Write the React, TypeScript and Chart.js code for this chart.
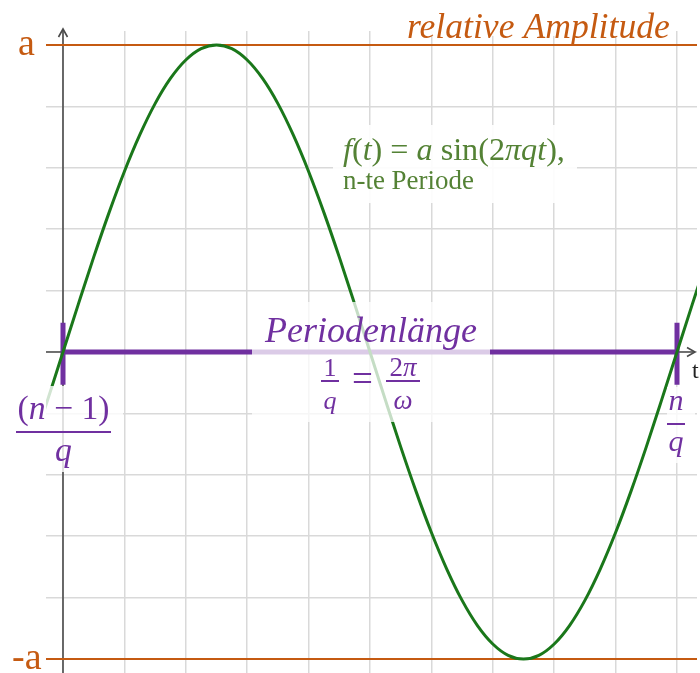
import React, { useEffect, useRef } from "react";
import { Chart, registerables } from "chart.js";

Chart.register(...registerables);

// ---- data ----
const curveT = [
  -0.05, -0.025, 0, 0.025, 0.05, 0.075, 0.1, 0.125, 0.15, 0.175, 0.2, 0.225, 0.25,
  0.275, 0.3, 0.325, 0.35, 0.375, 0.4, 0.425, 0.45, 0.475, 0.5, 0.525, 0.55, 0.575,
  0.6, 0.625, 0.65, 0.675, 0.7, 0.725, 0.75, 0.775, 0.8, 0.825, 0.85, 0.875, 0.9,
  0.925, 0.95, 0.975, 1, 1.025, 1.05,
];
const curveY = [
  -0.309, -0.156, 0, 0.156, 0.309, 0.454, 0.588, 0.707, 0.809, 0.891, 0.951, 0.988, 1,
  0.988, 0.951, 0.891, 0.809, 0.707, 0.588, 0.454, 0.309, 0.156, 0, -0.156, -0.309, -0.454,
  -0.588, -0.707, -0.809, -0.891, -0.951, -0.988, -1, -0.988, -0.951, -0.891, -0.809, -0.707, -0.588,
  -0.454, -0.309, -0.156, 0, 0.156, 0.309,
];
const xGridTicks = [0, 0.1, 0.2, 0.3, 0.4, 0.5, 0.6, 0.7, 0.8, 0.9, 1];
const yGridTicks = [-1, -0.8, -0.6, -0.4, -0.2, 0, 0.2, 0.4, 0.6, 0.8, 1];
const amplitudeLevels = [1, -1];
const amplitudeLabels = ["a", "-a"];
const periodStart = 0;
const periodEnd = 1;
const periodTickTop = 0.095;
const periodTickBottom = -0.107;
const titleText = "relative Amplitude";
const periodText = "Periodenlänge";
const functionNote = "n-te Periode";
const axisLabel = "t";

// ---- axis ranges ----
const X_MIN = -17 / 614;
const X_MAX = 1 + 20 / 614;
const Y_MAX = 1 + 14 / 307;
const Y_MIN = -Y_MAX;

const ORANGE = "#c55a11";
const PURPLE = "#7030a0";
const GREEN_LINE = "#1a771a";
const GREEN_TEXT = "#548235";
const SERIF = '"Liberation Serif", "DejaVu Serif", serif';

type Run = { t: string; i?: boolean };

function font(size: number, italic?: boolean) {
  return `${italic ? "italic " : ""}${size}px ${SERIF}`;
}
function measureRuns(ctx: CanvasRenderingContext2D, runs: Run[], size: number) {
  let w = 0;
  for (const r of runs) {
    ctx.font = font(size, r.i);
    w += ctx.measureText(r.t).width;
  }
  return w;
}
function drawRuns(
  ctx: CanvasRenderingContext2D,
  runs: Run[],
  x: number,
  y: number,
  size: number,
  color: string
) {
  ctx.fillStyle = color;
  ctx.textBaseline = "alphabetic";
  ctx.textAlign = "left";
  let cx = x;
  for (const r of runs) {
    ctx.font = font(size, r.i);
    ctx.fillText(r.t, cx, y);
    cx += ctx.measureText(r.t).width;
  }
}
function fitSize(ctx: CanvasRenderingContext2D, runs: Run[], base: number, width: number) {
  return (base * width) / measureRuns(ctx, runs, base);
}
function drawCentered(
  ctx: CanvasRenderingContext2D,
  runs: Run[],
  cx: number,
  y: number,
  size: number,
  color: string
) {
  const w = measureRuns(ctx, runs, size);
  drawRuns(ctx, runs, cx - w / 2, y, size, color);
}
function drawFraction(
  ctx: CanvasRenderingContext2D,
  num: Run[],
  den: Run[],
  cx: number,
  barY: number,
  barW: number,
  numBase: number,
  denBase: number,
  size: number,
  color: string
) {
  drawCentered(ctx, num, cx, numBase, size, color);
  drawCentered(ctx, den, cx, denBase, size, color);
  ctx.fillStyle = color;
  ctx.fillRect(cx - barW / 2, barY - 1, barW, 2);
}
function whiteBox(ctx: CanvasRenderingContext2D, x: number, y: number, w: number, h: number, a: number) {
  ctx.fillStyle = `rgba(255,255,255,${a})`;
  ctx.fillRect(x, y, w, h);
}

const overlayPlugin = {
  id: "overlay",
  beforeDatasetsDraw(chart: any) {
    const ctx: CanvasRenderingContext2D = chart.ctx;
    const xs = chart.scales.x;
    const ys = chart.scales.y;
    const x0 = xs.getPixelForValue(0);
    const y0 = ys.getPixelForValue(0);
    const area = chart.chartArea;
    ctx.save();
    ctx.strokeStyle = "#4a4a4a";
    ctx.lineWidth = 1.6;
    ctx.lineJoin = "miter";
    ctx.beginPath();
    ctx.moveTo(x0, area.bottom);
    ctx.lineTo(x0, 29);
    ctx.stroke();
    ctx.beginPath();
    ctx.moveTo(x0 - 4.5, 37);
    ctx.lineTo(x0, 29);
    ctx.lineTo(x0 + 4.5, 37);
    ctx.stroke();
    ctx.beginPath();
    ctx.moveTo(area.left, y0);
    ctx.lineTo(695, y0);
    ctx.stroke();
    ctx.beginPath();
    ctx.moveTo(687, y0 - 4.5);
    ctx.lineTo(695, y0);
    ctx.lineTo(687, y0 + 4.5);
    ctx.stroke();
    ctx.restore();
  },
  afterDatasetsDraw(chart: any) {
    const ctx: CanvasRenderingContext2D = chart.ctx;
    const ys = chart.scales.y;
    ctx.save();

    // translucent label backgrounds
    whiteBox(ctx, 405, 0, 268, 36, 0.9);
    whiteBox(ctx, 333, 125, 244, 78, 0.9);
    whiteBox(ctx, 252, 302, 238, 120, 0.75);
    whiteBox(ctx, 8, 386, 115, 86, 0.8);
    whiteBox(ctx, 667, 387, 28, 76, 0.8);

    // amplitude labels
    const yTop = ys.getPixelForValue(amplitudeLevels[0]);
    const yBot = ys.getPixelForValue(amplitudeLevels[1]);
    drawRuns(ctx, [{ t: amplitudeLabels[0] }], 18, yTop + 10, 38, ORANGE);
    drawRuns(ctx, [{ t: amplitudeLabels[1] }], 12, yBot + 10, 38, ORANGE);

    // title
    const tRuns: Run[] = [{ t: titleText, i: true }];
    const tSize = fitSize(ctx, tRuns, 32, 263);
    drawRuns(ctx, tRuns, 407, 38, tSize, ORANGE);

    // function label
    const fRuns: Run[] = [
      { t: "f", i: true },
      { t: "(" },
      { t: "t", i: true },
      { t: ") = " },
      { t: "a", i: true },
      { t: " sin(2" },
      { t: "πqt", i: true },
      { t: ")," },
    ];
    const fSize = fitSize(ctx, fRuns, 26, 222);
    drawRuns(ctx, fRuns, 343, 160, fSize, GREEN_TEXT);
    const nRuns: Run[] = [{ t: functionNote }];
    const nSize = fitSize(ctx, nRuns, 24, 131);
    drawRuns(ctx, nRuns, 343, 189, nSize, GREEN_TEXT);

    // period length label
    const pRuns: Run[] = [{ t: periodText, i: true }];
    const pSize = fitSize(ctx, pRuns, 32, 212);
    drawRuns(ctx, pRuns, 265, 342, pSize, PURPLE);

    // 1/q = 2π/ω
    drawFraction(ctx, [{ t: "1" }], [{ t: "q", i: true }], 330, 381, 18, 376, 409, 26, PURPLE);
    drawCentered(ctx, [{ t: "=" }], 362.5, 391, 37, PURPLE);
    drawFraction(ctx, [{ t: "2" }, { t: "π", i: true }], [{ t: "ω", i: true }], 403, 381, 34, 376, 409, 27, PURPLE);

    // (n-1)/q
    const numRuns: Run[] = [{ t: "(" }, { t: "n", i: true }, { t: " − 1)" }];
    const numSize = fitSize(ctx, numRuns, 28, 92);
    drawFraction(ctx, numRuns, [{ t: "q", i: true }], 63.5, 432, 95, 419, 461, numSize, PURPLE);
    // n/q
    drawFraction(ctx, [{ t: "n", i: true }], [{ t: "q", i: true }], 676, 424, 18, 410, 451, 30, PURPLE);

    // axis label t
    drawRuns(ctx, [{ t: axisLabel }], 692, 378, 24, "#222");

    ctx.restore();
  },
};

export default function App() {
  const ref = useRef<HTMLCanvasElement>(null);

  useEffect(() => {
    const curve = curveT.map((t, k) => ({ x: t, y: curveY[k] }));
    const amplitudeSets = amplitudeLevels.map((lv) => ({
      type: "line" as const,
      data: [
        { x: X_MIN, y: lv },
        { x: X_MAX, y: lv },
      ],
      borderColor: ORANGE,
      borderWidth: 2,
      pointRadius: 0,
      order: 5,
    }));
    const chart = new Chart(ref.current!, {
      type: "line",
      data: {
        datasets: [
          ...amplitudeSets,
          {
            data: [
              { x: periodStart, y: 0 },
              { x: periodEnd, y: 0 },
            ],
            borderColor: PURPLE,
            borderWidth: 5,
            pointRadius: 0,
            order: 2,
          },
          {
            data: [
              { x: periodStart, y: periodTickTop },
              { x: periodStart, y: periodTickBottom },
            ],
            borderColor: PURPLE,
            borderWidth: 5,
            pointRadius: 0,
            order: 2,
          },
          {
            data: [
              { x: periodEnd, y: periodTickTop },
              { x: periodEnd, y: periodTickBottom },
            ],
            borderColor: PURPLE,
            borderWidth: 5,
            pointRadius: 0,
            order: 2,
          },
          {
            data: curve,
            borderColor: GREEN_LINE,
            borderWidth: 3,
            pointRadius: 0,
            cubicInterpolationMode: "monotone",
            order: 1,
          },
        ] as any,
      },
      options: {
        animation: false,
        responsive: true,
        maintainAspectRatio: false,
        parsing: false as any,
        layout: { padding: { left: 46, right: 3, top: 31, bottom: 0 } },
        plugins: {
          legend: { display: false },
          tooltip: { enabled: false },
        },
        events: [],
        scales: {
          x: {
            type: "linear",
            min: X_MIN,
            max: X_MAX,
            afterBuildTicks: (s: any) => {
              s.ticks = xGridTicks.map((v) => ({ value: v }));
            },
            ticks: { display: false },
            border: { display: false },
            grid: { color: "#d9d9d9", lineWidth: 1.5, drawTicks: false },
          },
          y: {
            type: "linear",
            min: Y_MIN,
            max: Y_MAX,
            afterBuildTicks: (s: any) => {
              s.ticks = yGridTicks.map((v) => ({ value: v }));
            },
            ticks: { display: false },
            border: { display: false },
            grid: { color: "#d9d9d9", lineWidth: 1.5, drawTicks: false },
          },
        },
      },
      plugins: [overlayPlugin],
    });
    return () => chart.destroy();
  }, []);

  return (
    <div style={{ position: "absolute", left: 0, top: 0, width: 700, height: 673, background: "#fff" }}>
      <canvas ref={ref} />
    </div>
  );
}
